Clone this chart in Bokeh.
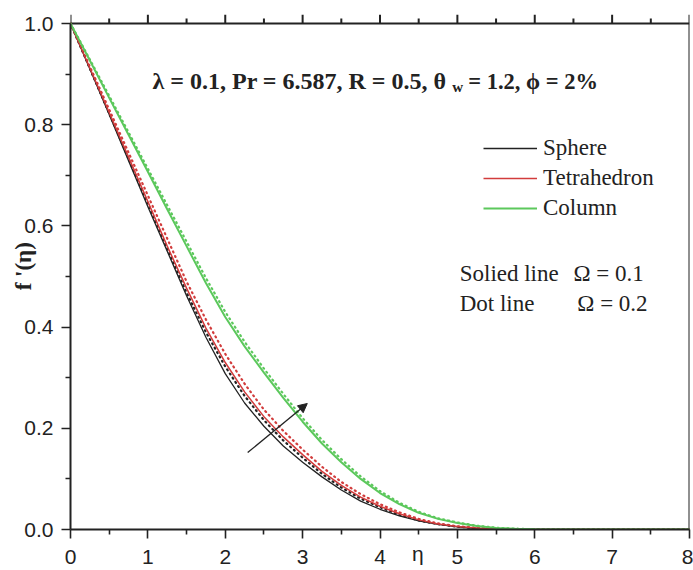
from bokeh.plotting import figure
from bokeh.models import (Range1d, LinearAxis, FixedTicker, Label, Legend, LegendItem,
                          Arrow, NormalHead, NumeralTickFormatter)
from bokeh.embed import file_html
from bokeh.resources import INLINE

# ---------------- data ----------------
eta = [0.0, 0.25, 0.5, 0.75, 1.0, 1.25, 1.5, 1.75, 2.0, 2.25, 2.5, 2.75, 3.0,
       3.25, 3.5, 3.75, 4.0, 4.25, 4.5, 4.75, 5.0, 5.25, 5.5, 5.75, 6.0,
       6.5, 7.0, 7.5, 8.0]

# Omega = 0.1 (solid lines)
sphere_w1 = [1.0, 0.910, 0.820, 0.729, 0.638, 0.550, 0.462, 0.380, 0.308, 0.250,
             0.204, 0.165, 0.133, 0.104, 0.078, 0.056, 0.040, 0.027, 0.017, 0.010,
             0.005, 0.002, 0.001, 0.0003, 0.0, 0.0, 0.0, 0.0, 0.0]
tetra_w1 = [1.0, 0.912, 0.824, 0.736, 0.648, 0.560, 0.477, 0.398, 0.330, 0.272,
            0.223, 0.183, 0.148, 0.115, 0.087, 0.064, 0.046, 0.031, 0.019, 0.011,
            0.006, 0.003, 0.001, 0.0004, 0.0, 0.0, 0.0, 0.0, 0.0]
column_w1 = [1.0, 0.927, 0.853, 0.780, 0.707, 0.633, 0.560, 0.487, 0.420, 0.362,
             0.310, 0.260, 0.213, 0.170, 0.133, 0.100, 0.072, 0.050, 0.033, 0.021,
             0.013, 0.007, 0.003, 0.0015, 0.0005, 0.0, 0.0, 0.0, 0.0]

# Omega = 0.2 (dotted lines)
sphere_w2 = [1.0, 0.911, 0.822, 0.733, 0.644, 0.555, 0.468, 0.390, 0.322, 0.264,
             0.216, 0.176, 0.142, 0.110, 0.083, 0.061, 0.044, 0.029, 0.018, 0.0105,
             0.0055, 0.0025, 0.001, 0.0003, 0.0, 0.0, 0.0, 0.0, 0.0]
tetra_w2 = [1.0, 0.915, 0.830, 0.745, 0.660, 0.575, 0.490, 0.415, 0.347, 0.288,
            0.237, 0.195, 0.158, 0.124, 0.094, 0.070, 0.050, 0.034, 0.021, 0.012,
            0.0065, 0.003, 0.0012, 0.0004, 0.0, 0.0, 0.0, 0.0, 0.0]
column_w2 = [1.0, 0.929, 0.857, 0.785, 0.713, 0.641, 0.569, 0.497, 0.430, 0.371,
             0.318, 0.268, 0.220, 0.177, 0.139, 0.105, 0.076, 0.053, 0.035, 0.022,
             0.014, 0.0075, 0.0035, 0.0017, 0.0006, 0.0, 0.0, 0.0, 0.0]

series_names = ["Sphere", "Tetrahedron", "Column"]

x_ticks = [0, 1, 2, 3, 4, 5, 6, 7, 8]
x_minor = [0.5, 1.5, 2.5, 3.5, 4.5, 5.5, 6.5, 7.5]
y_ticks = [0.0, 0.2, 0.4, 0.6, 0.8, 1.0]
y_minor = [0.1, 0.3, 0.5, 0.7, 0.9]

title_parts = ["\u03bb = 0.1, Pr = 6.587, R = 0.5, \u03b8", "w", "= 1.2, \u03d5 = 2%"]
note_left = ["Solied line", "Dot line"]
note_right = ["\u03a9 = 0.1", "\u03a9 = 0.2"]
x_label = "\u03b7"
y_label = "f '(\u03b7)"

# arrow (direction of increasing Omega)
arrow_start = (2.29, 0.152)
arrow_end = (3.06, 0.249)

# annotation anchor positions (data units)
title_x = [1.06, 4.935, 5.14]
title_y = 0.886
note_x_left = 5.03
note_x_right = [6.50, 6.55]
note_y = [0.506, 0.447]

# ---------------- styling ----------------
BLACK = "#222222"
RED = "#d23c3c"
GREEN = "#5cc85c"
TICK_FONT = "Liberation Sans"
SERIF = "Liberation Serif"

PX_PER_UNIT_Y = 506.0                 # frame pixels per unit of f'
TOP_TICK_MAJOR = 9 / PX_PER_UNIT_Y    # length of the top ticks (style)
TOP_TICK_MINOR = 5 / PX_PER_UNIT_Y

x0, x1 = x_ticks[0], x_ticks[-1]
y0, y1 = y_ticks[0], y_ticks[-1]

# the range reaches a little above 1.0 so that the top ticks can stand out
p = figure(width=693, height=570, output_backend="svg", toolbar_location=None,
           title=None,
           x_range=Range1d(x0, x1), y_range=Range1d(y0, y1 + TOP_TICK_MAJOR),
           x_axis_location=None, y_axis_location=None,
           min_border_left=70, min_border_right=4, min_border_top=14,
           min_border_bottom=41)
p.xgrid.visible = False
p.ygrid.visible = False
p.outline_line_color = None
p.background_fill_color = "white"


def style_axis(ax):
    ax.axis_line_color = BLACK
    ax.axis_line_width = 2
    ax.major_tick_line_color = BLACK
    ax.major_tick_line_width = 1.6
    ax.minor_tick_line_color = BLACK
    ax.minor_tick_line_width = 1.6
    ax.major_tick_in = 0
    ax.major_tick_out = 9
    ax.minor_tick_in = 0
    ax.minor_tick_out = 5
    ax.major_label_text_font = TICK_FONT
    ax.major_label_text_color = BLACK
    ax.major_label_text_font_size = "21px"


# bottom axis (with the eta label placed on the tick-label row)
xb = LinearAxis(ticker=FixedTicker(ticks=x_ticks, minor_ticks=x_minor))
style_axis(xb)
xb.major_label_standoff = 11
xb.axis_label = "\u00a0" * 13 + x_label
xb.axis_label_text_font = TICK_FONT
xb.axis_label_text_font_style = "normal"
xb.axis_label_text_font_size = "21px"
xb.axis_label_text_color = BLACK
xb.axis_label_standoff = -25
p.add_layout(xb, "below")

# left axis
yl = LinearAxis(ticker=FixedTicker(ticks=y_ticks, minor_ticks=y_minor),
                formatter=NumeralTickFormatter(format="0.0"), bounds=(y0, y1))
style_axis(yl)
yl.major_label_standoff = 8
yl.axis_label = "\u00a0" * 2 + y_label
yl.axis_label_text_font = SERIF
yl.axis_label_text_font_style = "bold"
yl.axis_label_text_font_size = "23px"
yl.axis_label_text_color = BLACK
yl.axis_label_standoff = -15
p.add_layout(yl, "left")

# top and right border of the box, and the top ticks
p.line([x0, x1], [y1, y1], line_color=BLACK, line_width=2)
p.line([x1, x1], [y0, y1], line_color=BLACK, line_width=2)
p.segment(x0=x_ticks, y0=[y1] * len(x_ticks), x1=x_ticks,
          y1=[y1 + TOP_TICK_MAJOR] * len(x_ticks), line_color=BLACK, line_width=2)
p.segment(x0=x_minor, y0=[y1] * len(x_minor), x1=x_minor,
          y1=[y1 + TOP_TICK_MINOR] * len(x_minor), line_color=BLACK, line_width=2)

# dotted lines (Omega = 0.2)
dot = dict(line_dash="1 4", line_cap="round", line_width=2.2)
p.line(eta, sphere_w2, line_color=BLACK, **dot)
p.line(eta, tetra_w2, line_color=RED, **dot)
p.line(eta, column_w2, line_color=GREEN, **dot)

# solid lines (Omega = 0.1)
r1 = p.line(eta, sphere_w1, line_color=BLACK, line_width=1.3)
r2 = p.line(eta, tetra_w1, line_color=RED, line_width=1.5)
r3 = p.line(eta, column_w1, line_color=GREEN, line_width=2.0)

legend = Legend(items=[LegendItem(label=series_names[0], renderers=[r1]),
                       LegendItem(label=series_names[1], renderers=[r2]),
                       LegendItem(label=series_names[2], renderers=[r3])],
                location=(413, 306), glyph_width=54, glyph_height=30,
                label_height=30, spacing=0, padding=0, margin=0,
                label_standoff=6, border_line_color=None,
                background_fill_alpha=0,
                label_text_font=SERIF, label_text_font_size="23px",
                label_text_color=BLACK)
p.add_layout(legend)

# title inside the plot
p.add_layout(Label(x=title_x[0], y=title_y, text=title_parts[0], text_font=SERIF,
                   text_font_style="bold", text_font_size="24px",
                   text_baseline="middle", text_color=BLACK))
p.add_layout(Label(x=title_x[1], y=title_y, y_offset=-6, text=title_parts[1],
                   text_font=SERIF, text_font_style="bold", text_font_size="15px",
                   text_baseline="middle", text_color=BLACK))
p.add_layout(Label(x=title_x[2], y=title_y, text=title_parts[2], text_font=SERIF,
                   text_font_style="bold", text_font_size="22.5px",
                   text_baseline="middle", text_color=BLACK))

# notes
for i in range(2):
    p.add_layout(Label(x=note_x_left, y=note_y[i], text=note_left[i], text_font=SERIF,
                       text_font_size="23px", text_baseline="middle", text_color=BLACK))
    p.add_layout(Label(x=note_x_right[i], y=note_y[i], text=note_right[i], text_font=SERIF,
                       text_font_size="23px", text_baseline="middle", text_color=BLACK))

# arrow
p.add_layout(Arrow(end=NormalHead(size=9, fill_color=BLACK, line_color=BLACK),
                   x_start=arrow_start[0], y_start=arrow_start[1],
                   x_end=arrow_end[0], y_end=arrow_end[1],
                   line_color=BLACK, line_width=1.3))

open("out.html", "w").write(file_html(p, INLINE))
